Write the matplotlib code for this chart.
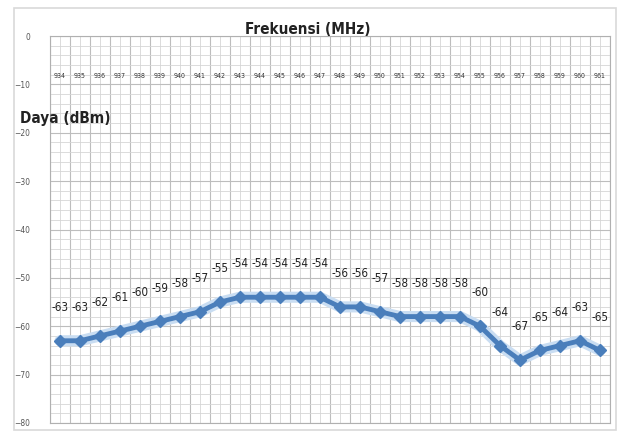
import matplotlib
matplotlib.use("Agg")
import matplotlib.pyplot as plt
import numpy as np

# frequency channels (MHz) and measured power (dBm)
freq = [934, 935, 936, 937, 938, 939, 940, 941, 942, 943, 944, 945, 946, 947,
        948, 949, 950, 951, 952, 953, 954, 955, 956, 957, 958, 959, 960, 961]
daya = [-63, -63, -62, -61, -60, -59, -58, -57, -55, -54, -54, -54, -54, -54,
        -56, -56, -57, -58, -58, -58, -58, -60, -64, -67, -65, -64, -63, -65]
y_ticks = [0, -10, -20, -30, -40, -50, -60, -70, -80]

plt.rcParams['font.family'] = ['DejaVu Sans']
plt.rcParams['font.stretch'] = 'condensed'

fig = plt.figure(figsize=(6.24, 4.34), dpi=100)
# outer chart frame
fig.patches.append(plt.Rectangle((14 / 624, 4 / 434), 602 / 624, 422 / 434,
                                 transform=fig.transFigure, fill=False,
                                 edgecolor='#d9d9d9', linewidth=1.2))

ax = fig.add_axes([50 / 624, 11 / 434, 560 / 624, 387 / 434])
x = np.arange(len(freq))
ax.set_xlim(-0.5, len(freq) - 0.5)
ax.set_ylim(-80, 0)

ax.set_yticks(y_ticks)
ax.set_yticks(np.arange(-80, 1, 2), minor=True)
ax.set_xticks(np.arange(-0.5, len(freq), 1))
ax.set_xticks(x, minor=True)
ax.grid(True, which='major', color='#bdbdbd', linewidth=0.8)
ax.grid(True, which='minor', color='#d6d6d6', linewidth=0.6)
ax.set_axisbelow(True)
ax.tick_params(axis='x', which='both', length=0, labelbottom=False)
ax.tick_params(axis='y', which='both', length=0, labelsize=6, colors='#555555', pad=14)
for s in ax.spines.values():
    s.set_color('#b0b0b0')

# category labels sit inside the plot near the top
for xi, f in zip(x, freq):
    ax.text(xi, -8.2, str(f), ha='center', va='center', fontsize=5, color='#333333')

# soft glow under the series line
ax.plot(x, daya, color='#c9ddf2', linewidth=8, solid_capstyle='round', zorder=2)
ax.plot(x, daya, color='#4a7ebb', linewidth=3.5, marker='D', markersize=6,
        markeredgecolor='#4a7ebb', zorder=3)

for xi, v in zip(x, daya):
    ax.annotate(str(v), (xi, v), xytext=(0, 24), textcoords='offset points',
                ha='center', va='center', fontsize=8.5, color='#222222')

fig.text(308 / 624, 1 - 30 / 434, 'Frekuensi (MHz)', ha='center', va='center',
         fontsize=11, fontweight='bold', color='#222222')
fig.text(20 / 624, 1 - 118 / 434, 'Daya (dBm)', ha='left', va='center',
         fontsize=11, fontweight='bold', color='#222222')

fig.savefig('out.png', dpi=100)
